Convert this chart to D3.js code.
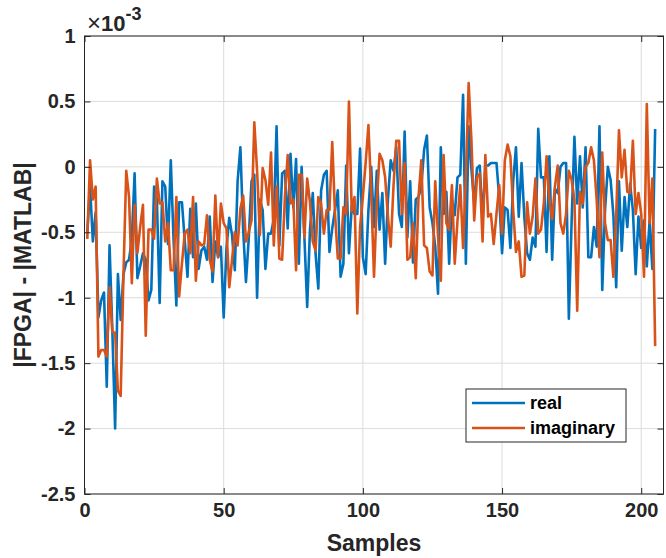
<!DOCTYPE html>
<html>
<head>
<meta charset="utf-8">
<script src="https://cdnjs.cloudflare.com/ajax/libs/d3/7.8.5/d3.min.js"></script>
<style>
  body { margin: 0; background: #fff; }
  svg { font-family: "Liberation Sans", Arial, Helvetica, sans-serif; }
</style>
</head>
<body>
<svg id="chart" width="666" height="558"></svg>
<script>
// values in units of 1e-3
var realVals = [
  -0.50,-0.15,-0.57,-0.35,-1.15,-1.02,-0.96,-1.68,-0.60,-1.25,
  -2.00,-0.82,-1.17,-0.82,-0.73,-0.71,-0.55,-0.05,-0.85,-0.76,
  -0.66,-0.71,-1.02,-0.94,-0.15,-0.25,-1.04,-0.11,-0.15,-0.59,
   0.05,-0.56,-1.06,-0.27,-0.27,-0.56,-0.84,-0.32,-0.69,-0.28,
  -0.78,-0.64,-0.61,-0.71,-0.38,-0.88,-0.57,-0.69,-0.61,-1.15,
  -0.62,-0.39,-0.52,-0.79,-0.11, 0.15,-0.48,-0.88,-0.55,-0.11,
  -0.06,-1.00,-0.25,-0.33,-0.78,-0.51,-0.51,-0.40, 0.31,-0.60,
  -0.05,-0.03,-0.47, 0.10,-0.31, 0.06,-0.74, 0.00,-0.54,-1.07,
  -0.48,-0.20,-0.66,-0.93,-0.18,-0.06,-0.03,-0.65,-0.47,-0.33,
  -0.18,-0.84,-0.74, 0.01,-0.66,-0.30,-0.36,-0.36, 0.14,-0.69,
  -0.82,-0.33, 0.00,-0.46,-0.03,-0.48,-0.20,-0.74,-0.25, 0.05,
  -0.03, 0.15,-0.36,-0.46, 0.27,-0.54,-0.11,-0.73,-0.25,-0.23,
  -0.15, 0.13, 0.24,-0.31,-0.43,-0.61,-0.97, 0.15,-0.36,-0.19,
  -0.74,-0.25,-0.37,-0.08,-0.06, 0.55,-0.74, 0.31,-0.02,-0.28,
  -0.01, 0.01,-0.41, 0.01, 0.01, 0.03, 0.03, 0.03,-0.24,-0.66,
  -0.31,-0.33,-0.62,-0.11, 0.15,-0.38, 0.03,-0.38,-0.66,-0.71,
  -0.54,-0.61, 0.29,-0.08,-0.08,-0.65, 0.08,-0.71,-0.17,-0.20,
   0.00, 0.03, 0.03,-1.16,-0.41, 0.23,-0.28, 0.08,-0.31, 0.15,
  -0.69,-0.69,-0.46,-0.61, 0.31,-0.94,-0.33, 0.00,-0.10,-0.37,
  -0.92,-0.11,-0.64,-0.23,-0.46,-0.13,-0.33,-0.82,-0.38,-0.62,
  -0.41,-0.76,-0.41,-0.78, 0.29
];
var imagVals = [
  -0.55, 0.05,-0.25,-0.15,-1.45,-1.40,-1.40,-1.45,-0.92,-1.26,
  -1.27,-1.71,-1.75,-0.82,-0.03,-0.23,-0.89,-0.29,-0.66,-0.46,
  -0.29,-1.29,-0.48,-0.48,-0.55,-0.09,-0.28,-0.27,-0.57,-0.43,
  -0.79,-0.79,-0.23,-0.99,-0.74,-0.51,-0.48,-0.66,-0.23,-0.87,
  -0.57,-0.60,-0.59,-0.37,-0.71,-0.80,-0.22,-0.69,-0.28,-0.43,
  -0.47,-0.92,-0.71,-0.50,-0.60,-0.32,-0.22,-0.57,-0.50,-0.41,
   0.34,-0.03,-0.52,-0.01,-0.10,-0.29, 0.11,-0.60,-0.15,-0.70,
  -0.71,-0.23, 0.09,-0.28,-0.25,-0.79,-0.06,-0.06,-0.54,-0.09,
  -0.27,-0.57,-0.64,-0.23,-0.28,-0.51,-0.33,-0.33, 0.19,-0.36,
  -0.70,-0.70,-0.31,-0.36, 0.50,-0.34,-0.23,-1.12,-0.46,-0.23,
   0.03, 0.32,-0.20,-0.84,-0.28, 0.10, 0.05,-0.08,-0.38,-0.61,
  -0.15, 0.20, 0.20,-0.36, 0.03,-0.71,-0.69,-0.43,-0.85,-0.23,
   0.05,-0.60,-0.62,-0.80,-0.83,-0.11,-0.53,-0.87, 0.09,-0.43,
  -0.48,-0.14,-0.74,-0.41,-0.14,-0.62,-0.08, 0.64, 0.20,-0.41,
  -0.08,-0.05,-0.57, 0.09,-0.38,-0.36,-0.59,-0.36,-0.14,-0.51,
   0.05, 0.17, 0.08,-0.33,-0.65,-0.57,-0.84,-0.83,-0.27,-0.51,
  -0.38,-0.09,-0.51,-0.48,-0.28, 0.08,-0.25,-0.40,-0.15, 0.01,
  -0.43,-0.51,-0.36,-0.03,-0.10,-0.25,-1.10,-0.19,-0.28, 0.00,
   0.03, 0.15, 0.05,-0.25,-0.69, 0.11,-0.43,-0.56,-0.56,-0.84,
  -0.38, 0.28,-0.08, 0.13,-0.19,-0.20, 0.20,-0.36,-0.20,-0.36,
  -0.84, 0.48,-0.43,-0.09,-1.37
];
var seriesNames = ["real", "imaginary"];
var seriesColors = ["#0072BD", "#D95319"];
var xTicks = [0, 50, 100, 150, 200];
var yTicks = [-2.5, -2, -1.5, -1, -0.5, 0, 0.5, 1];
var xDomain = [0, 208];
var yDomain = [-2.5, 1];

var pLeft = 84.5, pRight = 663.5, pTop = 36, pBottom = 494;
var axisColor = "#262626";

var x = d3.scaleLinear().domain(xDomain).range([pLeft, pRight]);
var y = d3.scaleLinear().domain(yDomain).range([pBottom, pTop]);

var svg = d3.select("#chart");

// grid
var grid = svg.append("g");
grid.selectAll(".vg").data(xTicks).enter().append("line")
    .attr("x1", function (d) { return x(d); })
    .attr("x2", function (d) { return x(d); })
    .attr("y1", pTop).attr("y2", pBottom)
    .attr("stroke", "#dcdcdc").attr("stroke-width", 1);
grid.selectAll(".hg").data(yTicks).enter().append("line")
    .attr("y1", function (d) { return y(d); })
    .attr("y2", function (d) { return y(d); })
    .attr("x1", pLeft).attr("x2", pRight)
    .attr("stroke", "#dcdcdc").attr("stroke-width", 1);

// data lines
var line = d3.line()
    .x(function (d, i) { return x(i + 1); })
    .y(function (d) { return y(d); });

[realVals, imagVals].forEach(function (vals, k) {
    svg.append("path")
        .datum(vals)
        .attr("d", line)
        .attr("fill", "none")
        .attr("stroke", seriesColors[k])
        .attr("stroke-width", 2.6)
        .attr("stroke-linejoin", "round");
});

// axes
function styleAxis(g) {
    g.select(".domain").remove();
    g.selectAll(".tick line").attr("stroke", axisColor);
    g.selectAll(".tick text")
        .attr("fill", axisColor)
        .style("font-size", "20px")
        .style("font-weight", "bold");
}
svg.append("g")
    .attr("transform", "translate(0," + pBottom + ")")
    .call(d3.axisBottom(x).tickValues(xTicks).tickSize(-6).tickPadding(9).tickFormat(d3.format("d")))
    .call(styleAxis);
svg.append("g")
    .attr("transform", "translate(0," + pTop + ")")
    .call(d3.axisTop(x).tickValues(xTicks).tickSize(-6).tickFormat(""))
    .call(styleAxis);
svg.append("g")
    .attr("transform", "translate(" + pLeft + ",0)")
    .call(d3.axisLeft(y).tickValues(yTicks).tickSize(-6).tickPadding(9).tickFormat(function (d) { return String(d); }))
    .call(styleAxis);
svg.append("g")
    .attr("transform", "translate(" + pRight + ",0)")
    .call(d3.axisRight(y).tickValues(yTicks).tickSize(-6).tickFormat(""))
    .call(styleAxis);

// box
svg.append("rect")
    .attr("x", pLeft).attr("y", pTop)
    .attr("width", pRight - pLeft).attr("height", pBottom - pTop)
    .attr("fill", "none").attr("stroke", axisColor).attr("stroke-width", 1);

// exponent
var ex = svg.append("text")
    .attr("x", 87).attr("y", 31)
    .attr("fill", axisColor)
    .style("font-size", "22px");
ex.append("tspan").style("font-size", "24px").text("×");
ex.append("tspan").style("font-weight", "bold").text("10");
ex.append("tspan").attr("dy", -11).style("font-weight", "bold").style("font-size", "18px").text("-3");

// labels
svg.append("text")
    .attr("x", (pLeft + pRight) / 2).attr("y", 551)
    .attr("text-anchor", "middle")
    .attr("fill", axisColor)
    .style("font-size", "23px").style("font-weight", "bold")
    .text("Samples");
svg.append("text")
    .attr("transform", "translate(31," + (pTop + pBottom) / 2 + ") rotate(-90)")
    .attr("text-anchor", "middle")
    .attr("fill", axisColor)
    .style("font-size", "23px").style("font-weight", "bold")
    .text("|FPGA| - |MATLAB|");

// legend
var lg = svg.append("g").attr("transform", "translate(466,389)");
lg.append("rect")
    .attr("width", 160).attr("height", 53)
    .attr("fill", "#fff").attr("stroke", axisColor).attr("stroke-width", 1);
seriesNames.forEach(function (name, k) {
    var yy = 14 + k * 25;
    lg.append("line")
        .attr("x1", 6).attr("x2", 59)
        .attr("y1", yy).attr("y2", yy)
        .attr("stroke", seriesColors[k]).attr("stroke-width", 2.6);
    lg.append("text")
        .attr("x", 64).attr("y", yy)
        .attr("dy", "0.35em")
        .attr("fill", "#000")
        .style("font-size", "18px").style("font-weight", "bold")
        .text(name);
});
</script>
</body>
</html>
